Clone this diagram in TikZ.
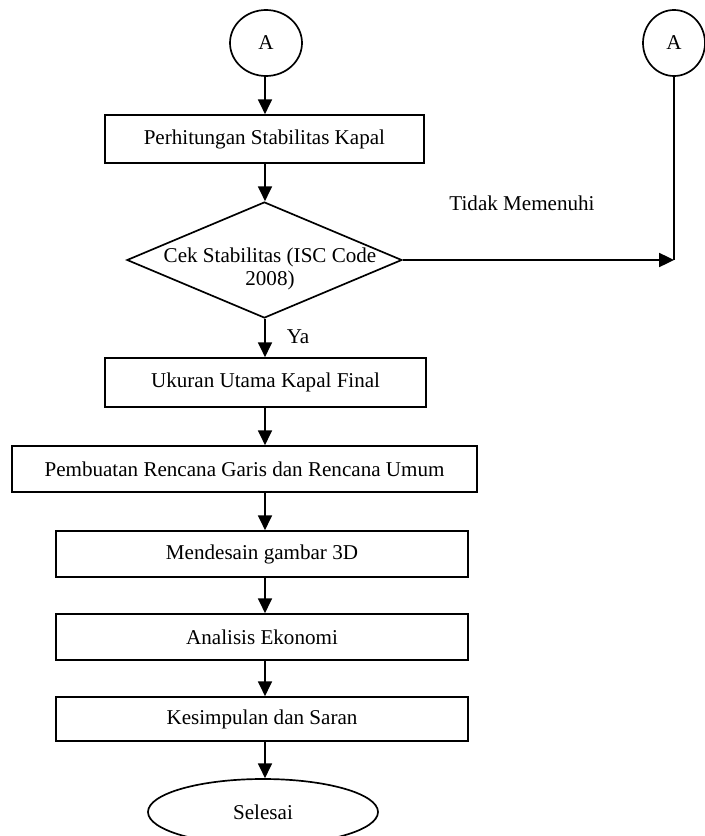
\documentclass[tikz,border=0pt]{standalone}
\usepackage{fontspec}
\setmainfont{Liberation Serif}
\usepackage{tikz}
\usetikzlibrary{shapes.geometric}
\usetikzlibrary{arrows.meta}

\begin{document}
\begin{tikzpicture}[line width=1.2pt,
  font=\fontsize{15}{16}\selectfont,
  >={Triangle[length=0.37cm,width=0.35cm]},
  proses/.style={draw, rectangle, minimum height=1.15cm, inner sep=0pt},
  konektor/.style={draw, ellipse, minimum width=1.8cm, minimum height=1.65cm, inner sep=0pt},
  keputusan/.style={draw, diamond, minimum width=6.875cm, minimum height=2.9cm, inner sep=0pt},
  terminal/.style={draw, ellipse, minimum width=5.75cm, minimum height=1.65cm, inner sep=0pt}]
\useasboundingbox (0,0) rectangle (17.6,-20.9);

\node[konektor] (a1) at (6.65,-1.075) {A};
\node[konektor, minimum width=1.55cm] (a2) at (16.85,-1.075) {A};

\node[proses, minimum width=7.975cm, minimum height=1.2cm] (hitung) at (6.61,-3.475) {Perhitungan Stabilitas Kapal};
\node[keputusan, label={[align=center, xshift=0.14cm, yshift=-0.225cm]center:Cek Stabilitas (ISC Code\\2008)}] (cek) at (6.61,-6.5) {};
\node[proses, minimum width=8.025cm, minimum height=1.225cm] (ukuran) at (6.64,-9.5625) {Ukuran Utama Kapal Final};
\node[proses, minimum width=11.625cm] (rencana) at (6.1125,-11.725) {Pembuatan Rencana Garis dan Rencana Umum};
\node[proses, minimum width=10.3cm] (desain) at (6.55,-13.85) {Mendesain gambar 3D};
\node[proses, minimum width=10.3cm] (ekonomi) at (6.55,-15.925) {Analisis Ekonomi};
\node[proses, minimum width=10.3cm, minimum height=1.1cm] (saran) at (6.55,-17.975) {Kesimpulan dan Saran};
\node[terminal] (selesai) at (6.575,-20.3) {Selesai};

\node (tidak) at (13.05,-5.075) {Tidak Memenuhi};
\node[anchor=west, inner sep=0pt] (ya) at (7.15,-8.425) {Ya};

\coordinate (jalur) at (6.625,0);
\coordinate (belok) at (a2.south |- cek.east);

% alur utama
\draw[->] (a1.south -| jalur) -- (hitung.north -| jalur);
\draw[->] (hitung.south -| jalur) -- (cek.north -| jalur);
\draw[->] (cek.south -| jalur) -- (ukuran.north -| jalur);
\draw[->] (ukuran.south -| jalur) -- (rencana.north -| jalur);
\draw[->] (rencana.south -| jalur) -- (desain.north -| jalur);
\draw[->] (desain.south -| jalur) -- (ekonomi.north -| jalur);
\draw[->] (ekonomi.south -| jalur) -- (saran.north -| jalur);
\draw[->] (saran.south -| jalur) -- (selesai.north -| jalur);

% tidak memenuhi
\draw[->] (cek.east) -- (belok);
\draw (belok) -- (a2.south);
\end{tikzpicture}
\end{document}
